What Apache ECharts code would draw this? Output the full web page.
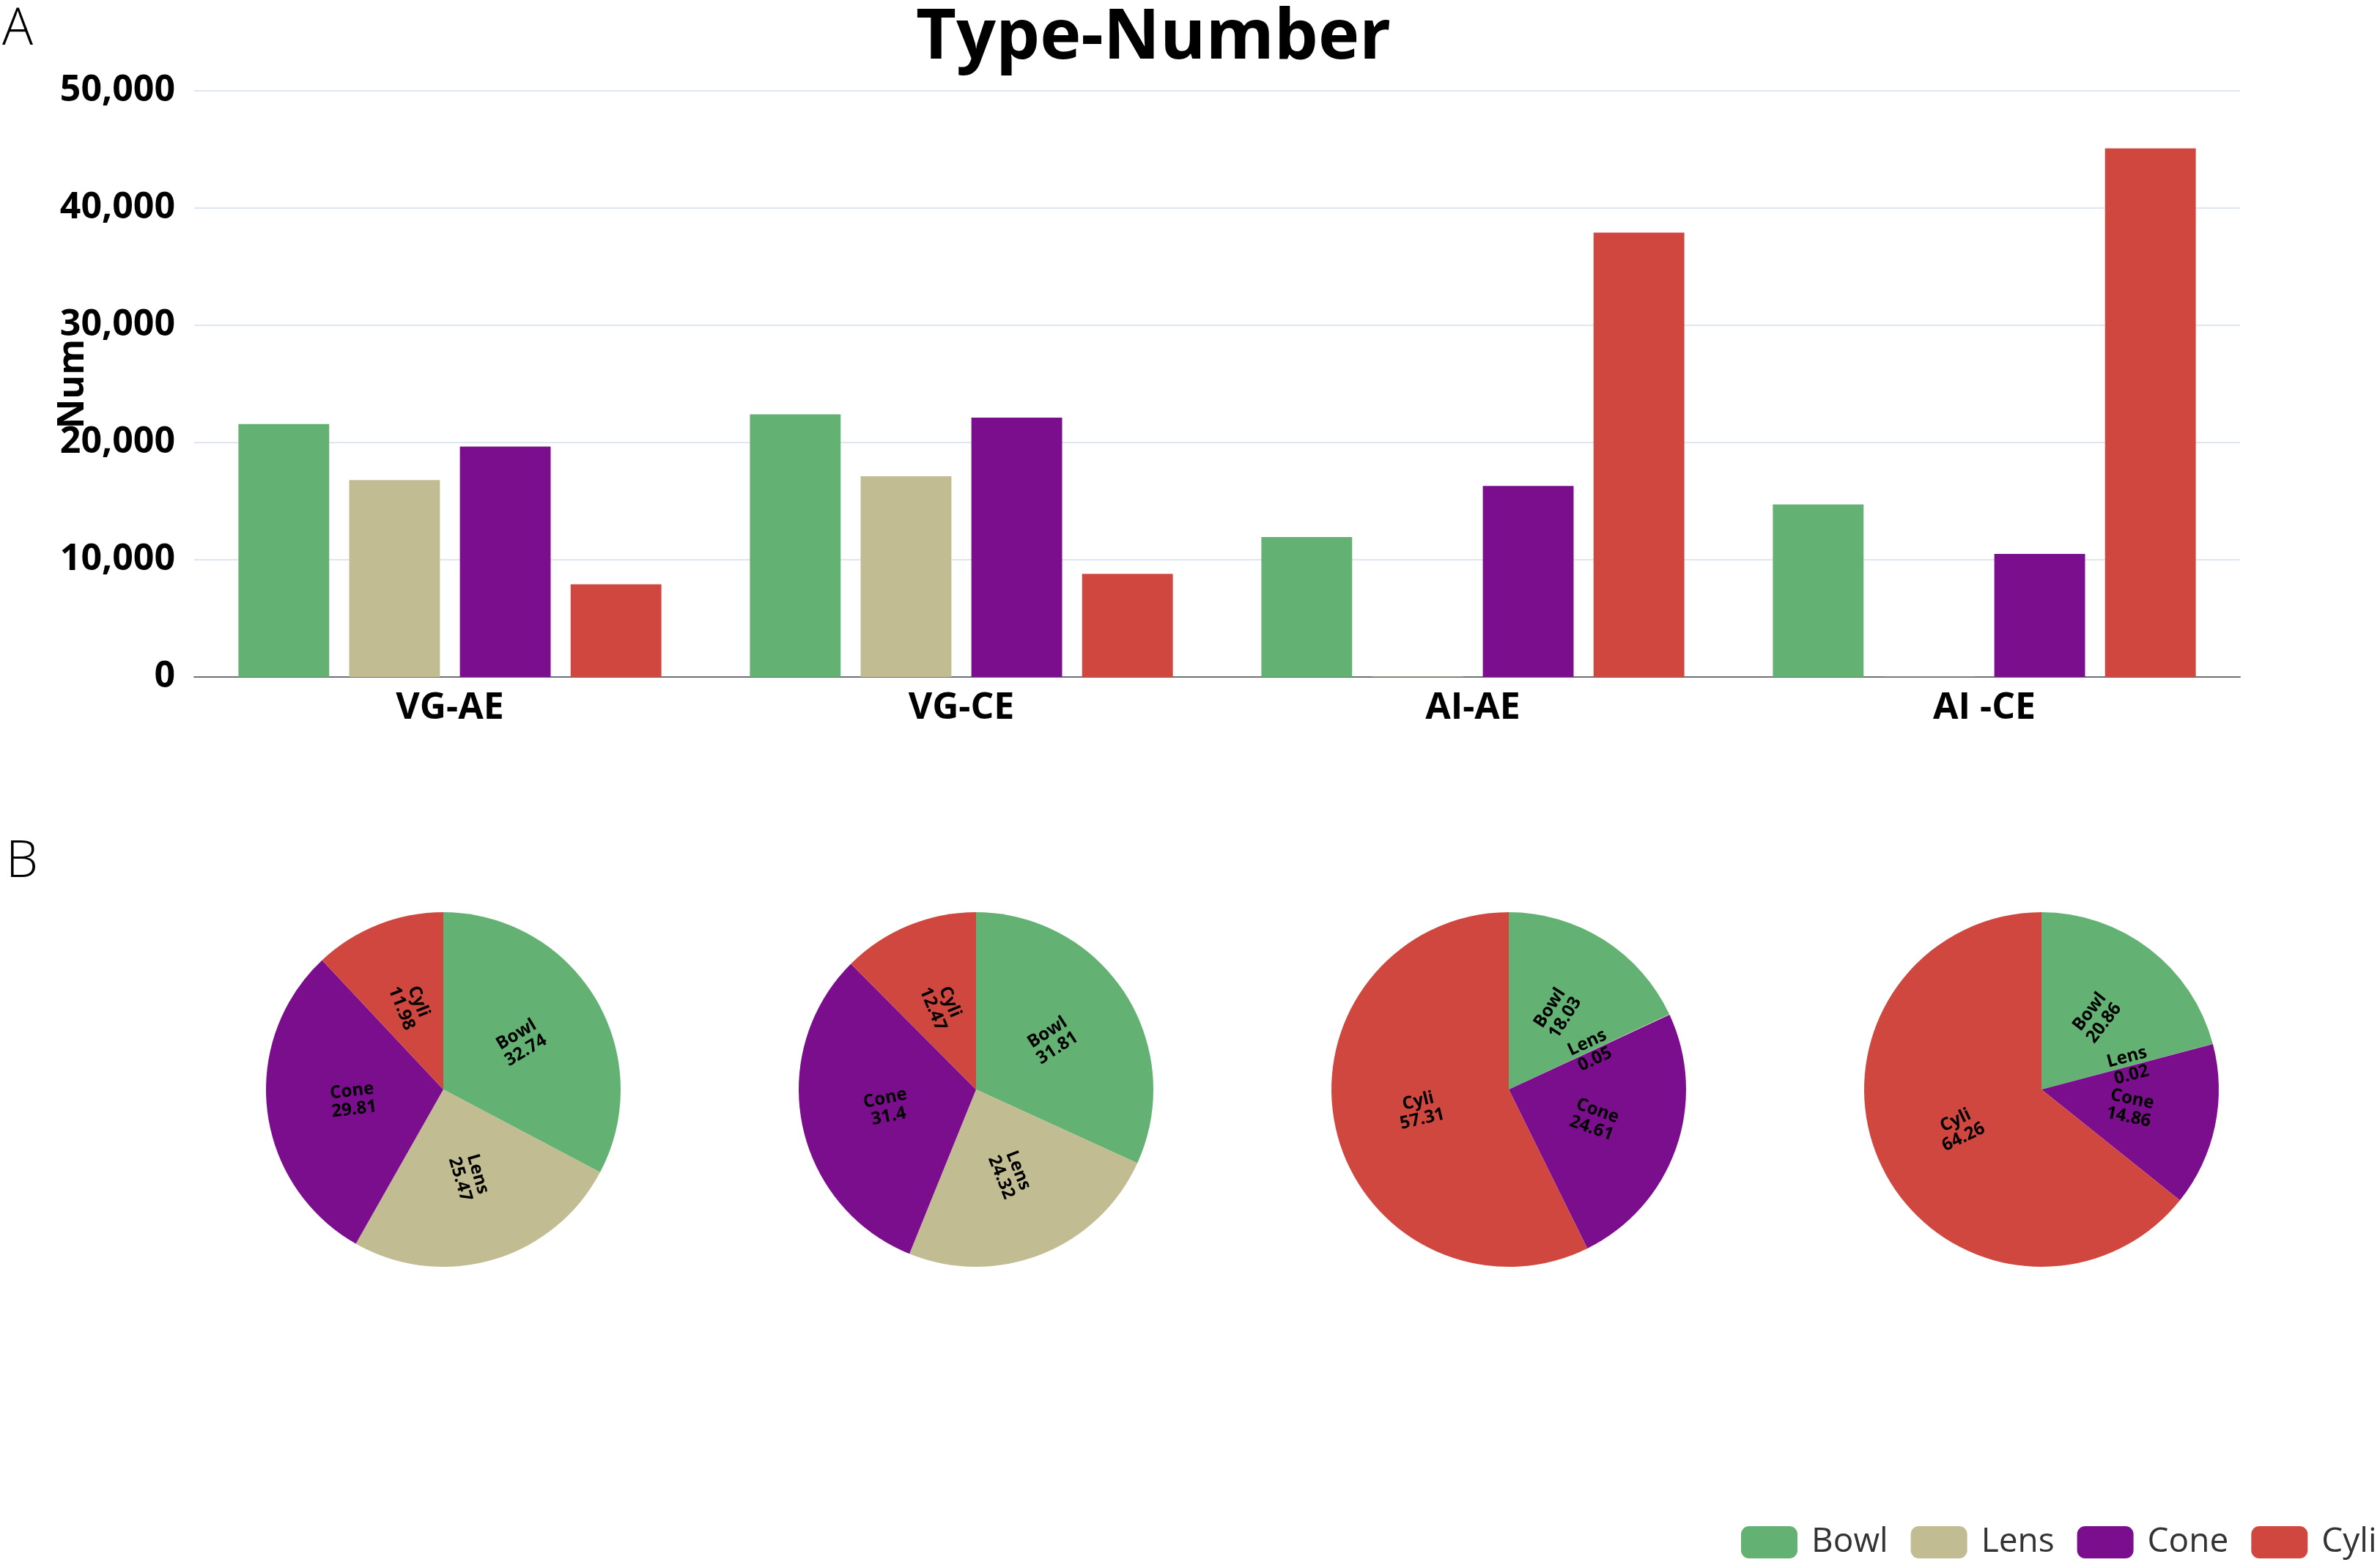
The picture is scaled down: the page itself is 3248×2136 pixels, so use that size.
<!DOCTYPE html>
<html lang="en">

<head>
    <meta charset="UTF-8">
    <title>Type-Number</title>
    <script src="https://cdn.jsdelivr.net/npm/echarts@6.0.0/dist/echarts.min.js"></script>
    <style>
        html, body { margin: 0; padding: 0; background: #fff; }
    </style>
</head>

<body>
    <div id="main" style="width: 3248px;height:2136px;"></div>
    <script type="text/javascript">
        // groups on the x axis and the four shape types
        const groups = ['VG-AE', 'VG-CE', 'AI-AE', 'AI -CE'];
        const types = ['Bowl', 'Lens', 'Cone', 'Cyli'];
        const colors = ['#64b273', '#c1bc92', '#7b0e8c', '#d0473f'];

        // counts per group, one array per type
        const bowlNum = [21580, 22410, 11940, 14720];
        const lensNum = [16790, 17130, 33, 14];
        const coneNum = [19650, 22120, 16300, 10500];
        const cyliNum = [7900, 8790, 37900, 45100];

        // shares in percent per group, in type order
        const shareVGAE = [32.74, 25.47, 29.81, 11.98];
        const shareVGCE = [31.81, 24.32, 31.4, 12.47];
        const shareAIAE = [18.03, 0.05, 24.61, 57.31];
        const shareAICE = [20.86, 0.02, 14.86, 64.26];

        const font = '"Open Sans", "Noto Sans", sans-serif';
        const barData = [bowlNum, lensNum, coneNum, cyliNum];
        const shares = [shareVGAE, shareVGCE, shareAIAE, shareAICE];
        const pieX = [605, 1332, 2059, 2786];

        const barSeries = types.map((t, i) => ({
            name: t,
            type: 'bar',
            barGap: '22%',
            barCategoryGap: '17.3%',
            data: barData[i]
        }));

        const pieSeries = shares.map((s, k) => ({
            name: groups[k],
            type: 'pie',
            center: [pieX[k], 1487],
            radius: 242,
            avoidLabelOverlap: false,
            minShowLabelAngle: 0,
            labelLayout: { hideOverlap: false },
            label: {
                position: 'inside',
                rotate: 'radial',
                formatter: '{b}\n{c}',
                fontFamily: font,
                fontSize: 24,
                fontWeight: 'bold',
                lineHeight: 25,
                color: '#000'
            },
            labelLine: { show: false },
            data: types.map((t, i) => ({ name: t, value: s[i] }))
        }));

        let options = {
            color: colors,
            animation: false,
            textStyle: { fontFamily: font },
            title: {
                text: 'Type-Number',
                left: 1245,
                top: 0,
                textStyle: { fontFamily: font, fontSize: 95, fontWeight: 'bold', color: '#000' }
            },
            graphic: [
                { type: 'text', left: 3, top: 6, style: { text: 'A', fontFamily: font, fontSize: 70, fontWeight: 300, fill: '#000' } },
                { type: 'text', left: 8, top: 1142, style: { text: 'B', fontFamily: font, fontSize: 70, fontWeight: 300, fill: '#000' } }
            ],
            legend: {
                data: types,
                left: 2371,
                top: 2077,
                width: 1200,
                itemWidth: 77,
                itemHeight: 44,
                itemGap: 31,
                textStyle: { fontFamily: font, fontSize: 46, color: '#333', padding: [0, 0, 0, 14] }
            },
            grid: { left: 265, right: 191, top: 124, bottom: 1212, containLabel: false },
            xAxis: {
                type: 'category',
                data: groups,
                axisLine: { lineStyle: { color: '#6E7079', width: 2 } },
                axisTick: { length: 10, lineStyle: { width: 2 } },
                axisLabel: { fontFamily: font, fontSize: 50, fontWeight: 'bold', color: '#000', margin: 18 }
            },
            yAxis: {
                type: 'value',
                min: 0,
                max: 50000,
                interval: 10000,
                name: 'Num',
                nameLocation: 'middle',
                nameGap: 140,
                nameMoveOverlap: false,
                nameTextStyle: { fontFamily: font, fontSize: 50, fontWeight: 'bold', color: '#000' },
                axisLabel: { fontFamily: font, fontSize: 50, fontWeight: 'bold', color: '#000', margin: 26 },
                splitLine: { lineStyle: { color: '#E0E6F1', width: 2 } }
            },
            series: barSeries.concat(pieSeries)
        };

        let myChart = echarts.init(document.getElementById('main'));
        myChart.setOption(options);
    </script>
</body>

</html>
